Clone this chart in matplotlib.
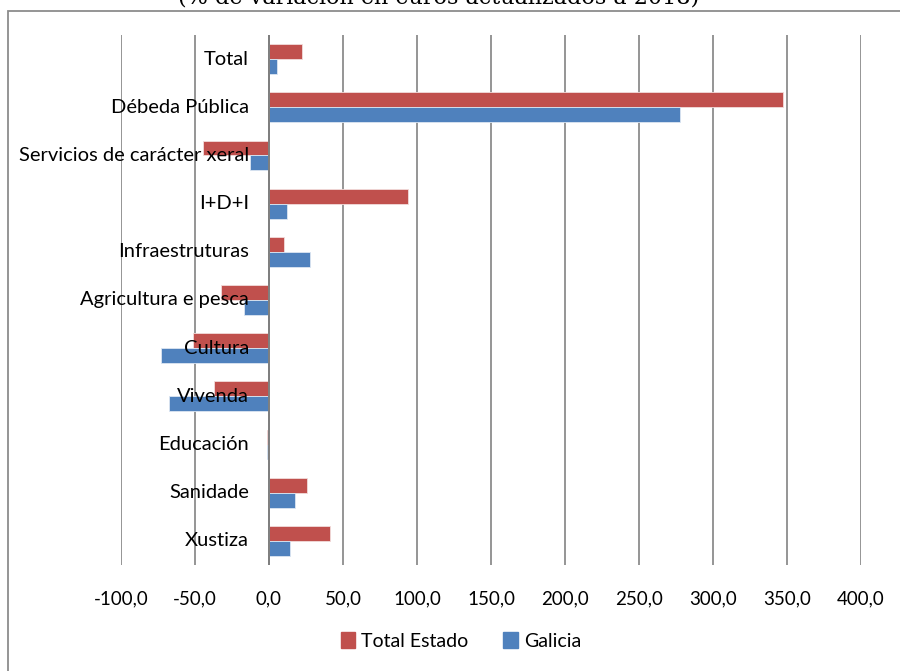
import matplotlib
matplotlib.use('Agg')
import matplotlib.pyplot as plt
import matplotlib.patches as mpatches
import numpy as np

categorias = ['Total', 'Débeda Pública', 'Servicios de carácter xeral', 'I+D+I',
              'Infraestruturas', 'Agricultura e pesca', 'Cultura', 'Vivenda',
              'Educación', 'Sanidade', 'Xustiza']
total_estado = [22.3, 347.3, -44.8, 93.9, 9.9, -32.4, -51.6, -37.4, -1.4, 25.5, 41.2]
galicia = [5.4, 277.7, -12.6, 12.2, 27.9, -17.1, -73.0, -67.3, -1.2, 17.6, 14.4]
xticks = [-100, -50, 0, 50, 100, 150, 200, 250, 300, 350, 400]

ROJO = '#C0504D'
AZUL = '#4F81BD'
GRIS = '#8C8C8C'

plt.rcParams['font.family'] = ['Lato', 'DejaVu Sans']

fig = plt.figure(figsize=(9, 6.71), dpi=100)
ax = fig.add_axes([121 / 900, 1 - 565 / 671, (861 - 121) / 900, 530 / 671])

y = np.arange(len(categorias))
h = 0.31
ax.barh(y - h / 2, total_estado, height=h, color=ROJO, edgecolor='#f2dcdb', linewidth=0.6, zorder=2)
ax.barh(y + h / 2, galicia, height=h, color=AZUL, edgecolor='#dce6f2', linewidth=0.6, zorder=2)

ax.set_xlim(-100, 400)
ax.set_ylim(len(categorias) - 0.5, -0.5)
ax.set_xticks(xticks)
ax.set_xticklabels([f'{v:.1f}'.replace('.', ',') for v in xticks], fontsize=13.5)
ax.set_yticks([])
ax.tick_params(axis='x', length=0, pad=18)
ax.grid(axis='x', color=GRIS, linewidth=1.3, zorder=0)
ax.axvline(0, color='#7f7f7f', linewidth=1.4, zorder=3)
for s in ax.spines.values():
    s.set_visible(False)

# etiquetas de categoría xunto ao eixo 0
for i, lab in enumerate(categorias):
    ax.text(-13.5, i, lab, ha='right', va='center', fontsize=14.5, color='black', zorder=4)

# título cortado arriba
fig.text(0.487, 1 - 5 / 671, '(% de variación en euros actualizados a 2018)',
         ha='center', va='baseline', fontsize=16, family='DejaVu Serif')

# marco do gráfico (só se ven os bordos superior e esquerdo)
fig.patches.append(mpatches.Rectangle((8 / 900, -0.05), 1.2, 1 - 11 / 671 + 0.05,
                                      transform=fig.transFigure, fill=False,
                                      edgecolor=GRIS, linewidth=1.3))

handles = [mpatches.Patch(color=ROJO, label='Total Estado'),
           mpatches.Patch(color=AZUL, label='Galicia')]
fig.legend(handles=handles, loc='center', bbox_to_anchor=(0.512, 1 - 641 / 671), ncol=2,
           frameon=False, fontsize=14, handlelength=0.75, handleheight=0.9,
           handletextpad=0.3, columnspacing=1.8)

plt.savefig('out.png', dpi=100)
plt.close()
